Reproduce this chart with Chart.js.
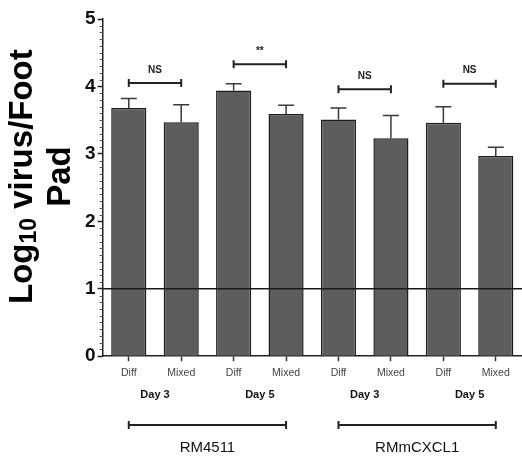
<!DOCTYPE html>
<html>
<head>
<meta charset="utf-8">
<script src="https://cdn.jsdelivr.net/npm/chart.js@4"></script>
<style>
  html, body { margin: 0; padding: 0; background: #fff; }
  #wrap { width: 522px; height: 458px; }
</style>
</head>
<body>
<div id="wrap"><canvas id="chart"></canvas></div>
<script>
// values
const categories = ['Diff', 'Mixed', 'Diff', 'Mixed', 'Diff', 'Mixed', 'Diff', 'Mixed'];
const dayLabels = ['Day 3', 'Day 5', 'Day 3', 'Day 5'];
const groupLabels = ['RM4511', 'RMmCXCL1'];
const means = [3.68, 3.47, 3.94, 3.59, 3.51, 3.23, 3.46, 2.97];
const errUpper = [3.82, 3.73, 4.04, 3.72, 3.68, 3.57, 3.70, 3.10];
const sigPairs = [[0, 1], [2, 3], [4, 5], [6, 7]];
const sigLabels = ['NS', '**', 'NS', 'NS'];
const sigLevels = [4.05, 4.33, 3.96, 4.04];
const groupSpans = [[0, 3], [4, 7]];
const detectionLimit = 1;

const FONT = 'Arial, "Liberation Sans", sans-serif';

const annotations = {
    id: 'annotations',
    afterDatasetsDraw(chart) {
        const ctx = chart.ctx;
        const x = chart.scales.x;
        const y = chart.scales.y;
        const bars = chart.getDatasetMeta(0).data;
        ctx.save();

        // error bars (upper only)
        ctx.strokeStyle = '#3a3a3a';
        ctx.lineWidth = 1.5;
        bars.forEach((bar, i) => {
            const yTop = y.getPixelForValue(errUpper[i]);
            const yMean = y.getPixelForValue(means[i]);
            ctx.beginPath();
            ctx.moveTo(bar.x, yMean);
            ctx.lineTo(bar.x, yTop);
            ctx.moveTo(bar.x - 8, yTop);
            ctx.lineTo(bar.x + 8, yTop);
            ctx.stroke();
        });

        // detection limit line
        const yl = y.getPixelForValue(detectionLimit);
        ctx.strokeStyle = '#1a1a1a';
        ctx.lineWidth = 1.5;
        ctx.beginPath();
        ctx.moveTo(chart.chartArea.left, yl);
        ctx.lineTo(chart.width, yl);
        ctx.stroke();

        // significance brackets
        ctx.strokeStyle = '#222';
        ctx.lineWidth = 2;
        ctx.fillStyle = '#222';
        ctx.textAlign = 'center';
        ctx.textBaseline = 'middle';
        sigPairs.forEach((p, k) => {
            const x1 = x.getPixelForValue(p[0]);
            const x2 = x.getPixelForValue(p[1]);
            const yy = y.getPixelForValue(sigLevels[k]);
            ctx.beginPath();
            ctx.moveTo(x1, yy);
            ctx.lineTo(x2, yy);
            ctx.moveTo(x1, yy - 4);
            ctx.lineTo(x1, yy + 4);
            ctx.moveTo(x2, yy - 4);
            ctx.lineTo(x2, yy + 4);
            ctx.stroke();
            ctx.font = 'bold 10px ' + FONT;
            ctx.fillText(sigLabels[k], (x1 + x2) / 2, yy - 13);
        });

        // group brackets under the day labels
        const gy = chart.scales.x2.bottom + 20;
        groupSpans.forEach(s => {
            const x1 = x.getPixelForValue(s[0]);
            const x2 = x.getPixelForValue(s[1]);
            ctx.beginPath();
            ctx.moveTo(x1, gy);
            ctx.lineTo(x2, gy);
            ctx.moveTo(x1, gy - 4);
            ctx.lineTo(x1, gy + 4);
            ctx.moveTo(x2, gy - 4);
            ctx.lineTo(x2, gy + 4);
            ctx.stroke();
        });

        // minor ticks on y axis
        ctx.strokeStyle = '#555';
        ctx.lineWidth = 1;
        for (let v = 1; v < 50; v++) {
            if (v % 10 === 0) continue;
            const py = Math.round(y.getPixelForValue(v / 10)) + 0.5;
            ctx.beginPath();
            ctx.moveTo(y.right - 3, py);
            ctx.lineTo(y.right, py);
            ctx.stroke();
        }

        // y axis title with subscript
        const area = chart.chartArea;
        const cy = (area.top + area.bottom) / 2 - 11;
        ctx.translate(0, cy);
        ctx.rotate(-Math.PI / 2);
        ctx.fillStyle = '#000';
        ctx.textAlign = 'left';
        ctx.textBaseline = 'alphabetic';
        const big = 'bold 33px ' + FONT;
        const small = 'bold 23px ' + FONT;
        ctx.font = big;
        const wLog = ctx.measureText('Log').width;
        const wRest = ctx.measureText(' virus/Foot').width;
        ctx.font = small;
        const wSub = ctx.measureText('10').width;
        let sx = -(wLog + wSub + wRest) / 2;
        ctx.font = big;
        ctx.fillText('Log', sx, 32);
        sx += wLog;
        ctx.font = small;
        ctx.fillText('10', sx, 36);
        sx += wSub;
        ctx.font = big;
        ctx.fillText(' virus/Foot', sx, 32);
        ctx.textAlign = 'center';
        ctx.fillText('Pad', 0, 70);

        ctx.restore();
    }
};

new Chart(document.getElementById('chart'), {
    type: 'bar',
    data: {
        labels: categories,
        datasets: [{
            data: means,
            backgroundColor: '#5d5d5d',
            borderColor: '#1c1c1c',
            borderWidth: 1.5,
            borderSkipped: 'bottom',
            barPercentage: 0.67,
            categoryPercentage: 1
        }]
    },
    options: {
        responsive: true,
        maintainAspectRatio: false,
        animation: false,
        layout: { padding: { left: 83, top: 19, right: 0, bottom: -33 } },
        plugins: { legend: { display: false }, tooltip: { enabled: false } },
        scales: {
            y: {
                min: 0,
                max: 5,
                ticks: { stepSize: 1, padding: 2, color: '#111', font: { family: FONT, size: 19, weight: 'bold' } },
                grid: { drawOnChartArea: false, tickLength: 5, tickColor: '#222', tickWidth: 1.5 },
                border: { color: '#222', width: 1.5 }
            },
            x: {
                offset: true,
                ticks: { padding: 6, color: '#444', font: { family: FONT, size: 10.5 } },
                grid: { drawOnChartArea: false, offset: false, tickLength: 5, tickColor: '#333', tickWidth: 1.5 },
                border: { color: '#222', width: 1.5 },
                weight: 0
            },
            x2: {
                type: 'category',
                position: 'bottom',
                labels: dayLabels,
                offset: true,
                ticks: { padding: 3, color: '#111', font: { family: FONT, size: 11, weight: 'bold' } },
                grid: { display: false, drawTicks: false },
                border: { display: false },
                weight: 1
            },
            x3: {
                type: 'category',
                position: 'bottom',
                labels: groupLabels,
                offset: true,
                ticks: { padding: 34, color: '#111', font: { family: FONT, size: 15 } },
                grid: { display: false, drawTicks: false },
                border: { display: false },
                weight: 2
            }
        }
    },
    plugins: [annotations]
});
</script>
</body>
</html>
